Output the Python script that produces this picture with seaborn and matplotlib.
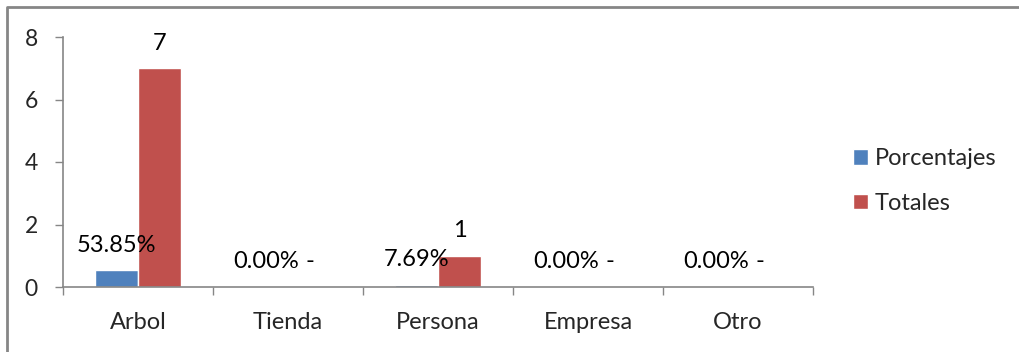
import pandas as pd
import matplotlib
matplotlib.use("Agg")
import matplotlib.pyplot as plt
import seaborn as sns
from matplotlib.lines import Line2D

# ### Data
categories = ["Arbol", "Tienda", "Persona", "Empresa", "Otro"]
porcentajes = [0.5385, 0.0, 0.0769, 0.0, 0.0]
totales = [7, 0, 1, 0, 0]
series_names = ["Porcentajes", "Totales"]
y_ticks = [0, 2, 4, 6, 8]

blue = "#4F81BD"
red = "#C0504D"
grey = "#868686"

df = pd.DataFrame({
    "categoria": categories * 2,
    "valor": porcentajes + totales,
    "serie": [series_names[0]] * len(categories) + [series_names[1]] * len(categories),
})

sns.set_theme(style="white")
plt.rcParams["font.family"] = ["Lato", "DejaVu Sans"]

fig = plt.figure(figsize=(10.2, 3.52), dpi=100)
ax = fig.add_axes([63 / 1020, 1 - 287 / 352, 750 / 1020, 250 / 352])

sns.barplot(data=df, x="categoria", y="valor", hue="serie", order=categories,
            hue_order=series_names, palette=[blue, red], width=0.573, gap=0,
            saturation=1, ax=ax, legend=True)

# Excel-like data labels above each bar
for container, name in zip(ax.containers, series_names):
    for bar, v in zip(container, container.datavalues):
        if name == "Porcentajes":
            txt = f"{v:.2%}"
        else:
            txt = "-" if v == 0 else f"{int(v)}"
        ax.annotate(txt, (bar.get_x() + bar.get_width() / 2, bar.get_height()),
                    xytext=(0, 18), textcoords="offset points",
                    ha="center", va="center", fontsize=17, color="black")

ax.set(xlim=(-0.5, len(categories) - 0.5), ylim=(0, 8), xlabel="", ylabel="")
ax.set_yticks(y_ticks)
ax.set_yticklabels([str(t) for t in y_ticks], fontsize=16.5)

# category boundaries carry the tick marks, labels sit on minor ticks
ax.set_xticks([i - 0.5 for i in range(len(categories) + 1)])
ax.set_xticklabels([])
ax.set_xticks(range(len(categories)), minor=True)
ax.set_xticklabels(categories, minor=True, fontsize=17)
ax.tick_params(axis="x", which="major", direction="out", length=5.5,
               width=1, color=grey, bottom=True)
ax.tick_params(axis="x", which="minor", length=0, pad=18)
ax.tick_params(axis="y", direction="out", length=6, width=1, color=grey,
               left=True, pad=12)

for side in ["top", "right"]:
    ax.spines[side].set_visible(False)
for side in ["left", "bottom"]:
    ax.spines[side].set_color(grey)
    ax.spines[side].set_linewidth(1.2)

ax.legend(loc="center left", bbox_to_anchor=(853 / 1020, 1 - 181 / 352),
          bbox_transform=fig.transFigure, frameon=False, fontsize=17,
          handlelength=0.62, handleheight=0.62, handletextpad=0.3,
          labelspacing=1.0, borderpad=0, borderaxespad=0)

# chart area border (top and left edges visible in the crop)
fig.add_artist(Line2D([7 / 1020, 7 / 1020, 1.0], [0.0, 1 - 7 / 352, 1 - 7 / 352],
                      transform=fig.transFigure, color=grey, linewidth=2))

fig.savefig("out.png", dpi=100)
